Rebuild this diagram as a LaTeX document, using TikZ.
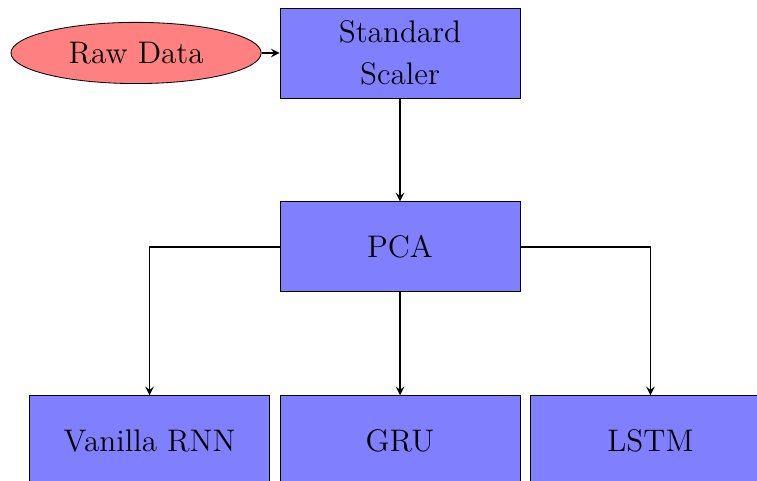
\documentclass[tikz,border=0pt]{standalone}
\usetikzlibrary{positioning, arrows.meta, shapes.geometric}
\tikzset{>=stealth}
\tikzset{
  block/.style={draw, fill=blue!50, minimum width=4cm, minimum height=1.5cm, align=center, font=\fontsize{14.8}{20}\selectfont},
  source/.style={draw, ellipse, fill=red!50, minimum width=4.17cm, minimum height=1.02cm, font=\fontsize{14.8}{20}\selectfont},
  link/.style={->, thick}
}

\begin{document}
\begin{tikzpicture}
\useasboundingbox (0,0) rectangle (12.617,-8.017);
\node[block] (scaler) at (6.667,-0.883) {Standard\\Scaler};
\node[source, left=0.3cm of scaler] (raw) {Raw Data};
\node[block, below=1.717cm of scaler] (pca) {PCA};
\node[block, below=1.717cm of pca] (gru) {GRU};
\node[block, left=0.16cm of gru] (rnn) {Vanilla RNN};
\node[block, right=0.16cm of gru] (lstm) {LSTM};
\draw[link] (raw) -- (scaler);
\draw[link] (scaler) -- (pca);
\draw[link] (pca) -- (gru);
\draw[link] (pca.west) -| (rnn.north);
\draw[link] (pca.east) -| (lstm.north);
\end{tikzpicture}
\end{document}
